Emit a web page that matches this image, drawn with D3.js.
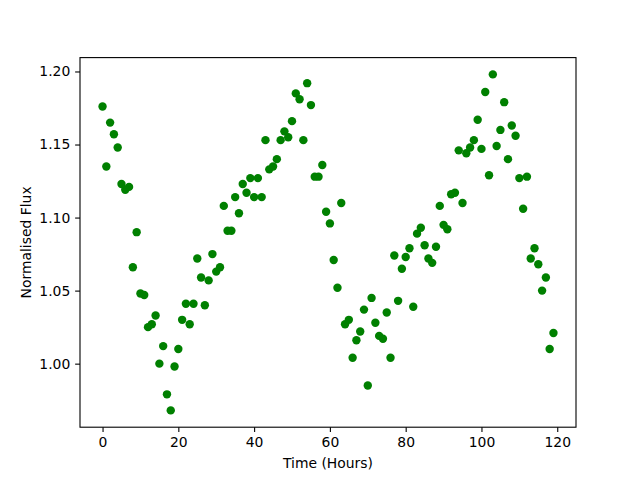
<!DOCTYPE html>
<html>
<head>
  <title>Normalised Flux</title>
  <style>
    body { margin: 0; background: #fff; }
    svg { display: block; font-family: "DejaVu Sans", sans-serif; }
  </style>
</head>
<body>
<svg width="640" height="480"></svg>
<script src="https://d3js.org/d3.v7.min.js"></script>
<script>

  // hours since start, one reading per hour
  var hours = [
    0, 1, 2, 3, 4, 5, 6, 7, 8, 9, 10, 11, 12, 13, 14, 15, 16, 17, 18, 19,
    20, 21, 22, 23, 24, 25, 26, 27, 28, 29, 30, 31, 32, 33, 34, 35, 36, 37, 38, 39,
    40, 41, 42, 43, 44, 45, 46, 47, 48, 49, 50, 51, 52, 53, 54, 55, 56, 57, 58, 59,
    60, 61, 62, 63, 64, 65, 66, 67, 68, 69, 70, 71, 72, 73, 74, 75, 76, 77, 78, 79,
    80, 81, 82, 83, 84, 85, 86, 87, 88, 89, 90, 91, 92, 93, 94, 95, 96, 97, 98, 99,
    100, 101, 102, 103, 104, 105, 106, 107, 108, 109, 110, 111, 112, 113, 114, 115, 116, 117, 118, 119]

  var flux = [
    1.176, 1.135, 1.165, 1.157, 1.148, 1.123, 1.119, 1.121, 1.066, 1.090,
    1.048, 1.047, 1.025, 1.027, 1.033, 1.000, 1.012, 0.979, 0.968, 0.998,
    1.010, 1.030, 1.041, 1.027, 1.041, 1.072, 1.059, 1.040, 1.057, 1.075,
    1.063, 1.066, 1.108, 1.091, 1.091, 1.114, 1.103, 1.123, 1.117, 1.127,
    1.114, 1.127, 1.114, 1.153, 1.133, 1.135, 1.140, 1.153, 1.159, 1.155,
    1.166, 1.185, 1.181, 1.153, 1.192, 1.177, 1.128, 1.128, 1.136, 1.104,
    1.096, 1.071, 1.052, 1.110, 1.027, 1.030, 1.004, 1.016, 1.022, 1.037,
    0.985, 1.045, 1.028, 1.019, 1.017, 1.035, 1.004, 1.074, 1.043, 1.065,
    1.073, 1.079, 1.039, 1.089, 1.093, 1.081, 1.072, 1.069, 1.080, 1.108,
    1.095, 1.092, 1.116, 1.117, 1.146, 1.110, 1.144, 1.148, 1.153, 1.167,
    1.147, 1.186, 1.129, 1.198, 1.149, 1.160, 1.179, 1.140, 1.163, 1.156,
    1.127, 1.106, 1.128, 1.072, 1.079, 1.068, 1.050, 1.059, 1.010, 1.021]

  var xTicks = [0, 20, 40, 60, 80, 100, 120]
  var yTicks = [1.00, 1.05, 1.10, 1.15, 1.20]

  var svg = d3.select("svg"),
    margin = {top: 57.6, right: 64, bottom: 52.8, left: 80},
    width = +svg.attr("width") - margin.left - margin.right,
    height = +svg.attr("height") - margin.top - margin.bottom,
    g = svg.append("g").attr("transform", "translate(" + margin.left + "," + margin.top + ")");

  var data = hours.map(function (h, i) {
    return {hour: h, value: flux[i]}
  })

  // matplotlib style 5% padding round the data
  function pad(ext) {
    var p = (ext[1] - ext[0]) * 0.05
    return [ext[0] - p, ext[1] + p]
  }

  var x = d3.scaleLinear()
    .domain(pad(d3.extent(hours)))
    .range([0, width]);

  var y = d3.scaleLinear()
    .domain(pad(d3.extent(flux)))
    .range([height, 0]);

  var tickLen = 4.86

  var xAxis = g.append("g")
    .attr("transform", "translate(0," + height + ")")
    .call(d3.axisBottom(x).tickValues(xTicks).tickSize(tickLen).tickPadding(4.9).tickFormat(d3.format("d")))
  xAxis.select(".domain").remove()

  var yAxis = g.append("g")
    .call(d3.axisLeft(y).tickValues(yTicks).tickSize(tickLen).tickPadding(4.9).tickFormat(d3.format(".2f")))
  yAxis.select(".domain").remove()

  g.selectAll(".tick line").attr("stroke", "#000").attr("stroke-width", 1.1)
  g.selectAll(".tick text")
    .attr("fill", "#000")
    .style("font-size", "13.9px")
    .style("font-family", "'DejaVu Sans', sans-serif")

  g.selectAll("circle.pt")
    .data(data)
    .enter().append("circle")
    .attr("class", "pt")
    .attr("cx", function (d) { return x(d.hour) })
    .attr("cy", function (d) { return y(d.value) })
    .attr("r", 4.2)
    .attr("fill", "#008000")

  g.append("rect")
    .attr("width", width)
    .attr("height", height)
    .attr("fill", "none")
    .attr("stroke", "#000")
    .attr("stroke-width", 1.1)

  svg.append("text")
    .attr("x", margin.left + width / 2)
    .attr("y", 468)
    .attr("text-anchor", "middle")
    .style("font-size", "13.9px")
    .text("Time (Hours)")

  svg.append("text")
    .attr("transform", "translate(31," + (margin.top + height / 2) + ") rotate(-90)")
    .attr("text-anchor", "middle")
    .style("font-size", "13.9px")
    .text("Normalised Flux")

</script>
</body>
</html>
